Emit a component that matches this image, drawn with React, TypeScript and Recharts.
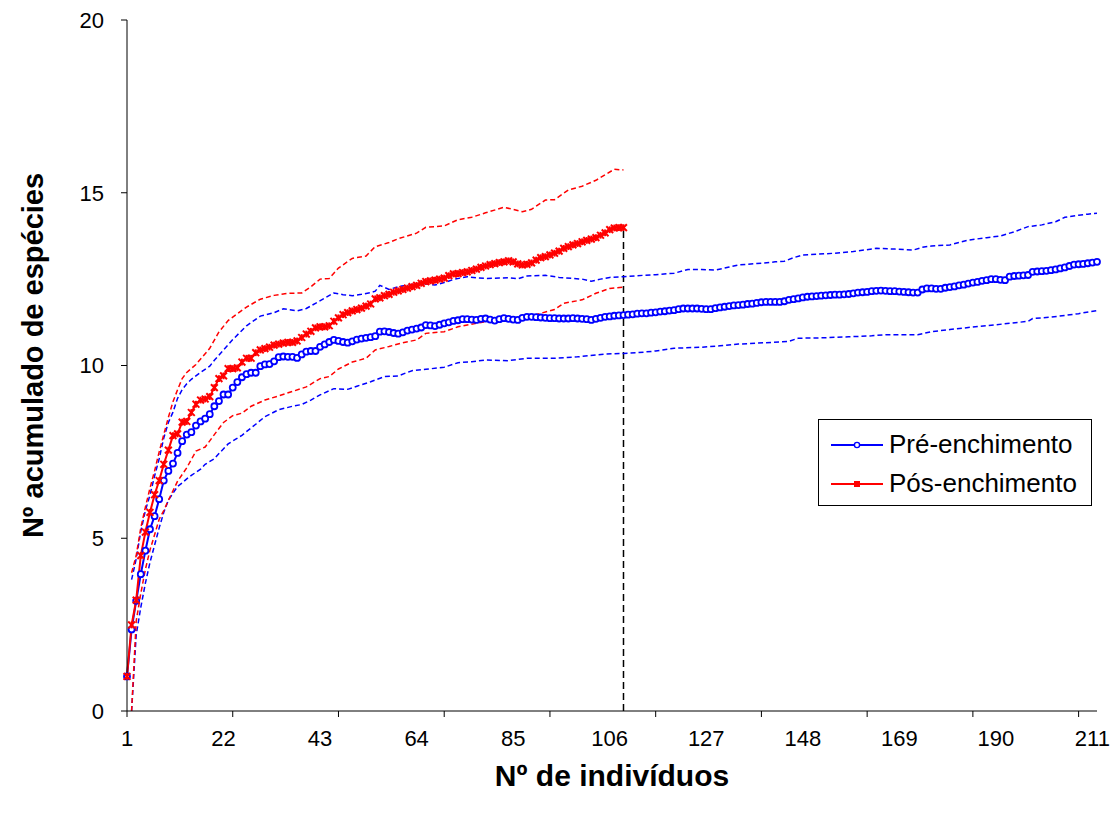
import { LineChart, Line, XAxis, YAxis, ReferenceLine, Legend } from 'recharts';

const FONT = 'Arial, "Liberation Sans", sans-serif';
const BLUE = '#0000ff';
const RED = '#ff0000';

// x-axis: labels every 21, tick marks every 23 (as in the original sheet)
const X_LABELS = [1, 22, 43, 64, 85, 106, 127, 148, 169, 190, 211];
const X_MARKS = [1, 24, 47, 70, 93, 116, 139, 162, 185, 208];
const Y_TICKS = [0, 5, 10, 15, 20];

// mean accumulated species, one value per individual
const PRE_MEAN = [
  1.0, 2.36, 3.19, 3.96, 4.64, 5.26, 5.64, 6.13, 6.67, 6.95,
  7.16, 7.47, 7.81, 8.0, 8.07, 8.26, 8.38, 8.46, 8.59, 8.82,
  8.97, 9.16, 9.16, 9.36, 9.52, 9.66, 9.75, 9.79, 9.79, 9.98,
  10.03, 10.04, 10.12, 10.24, 10.26, 10.25, 10.25, 10.22, 10.32, 10.4,
  10.42, 10.42, 10.54, 10.61, 10.68, 10.74, 10.71, 10.68, 10.66, 10.7,
  10.75, 10.78, 10.8, 10.82, 10.85, 10.98, 10.99, 10.97, 10.94, 10.92,
  10.96, 11.01, 11.04, 11.07, 11.1, 11.17, 11.16, 11.14, 11.18, 11.22,
  11.25, 11.29, 11.31, 11.34, 11.34, 11.33, 11.32, 11.35, 11.36, 11.33,
  11.3, 11.34, 11.37, 11.35, 11.33, 11.32, 11.38, 11.41, 11.41, 11.4,
  11.39, 11.38, 11.37, 11.37, 11.36, 11.36, 11.36, 11.37, 11.36, 11.35,
  11.34, 11.32, 11.35, 11.38, 11.41, 11.42, 11.44, 11.45, 11.46, 11.47,
  11.48, 11.5, 11.51, 11.51, 11.53, 11.54, 11.56, 11.57, 11.59, 11.6,
  11.63, 11.65, 11.65, 11.65, 11.65, 11.64, 11.63, 11.63, 11.66, 11.68,
  11.7, 11.72, 11.74, 11.75, 11.76, 11.78, 11.79, 11.81, 11.83, 11.84,
  11.84, 11.84, 11.84, 11.86, 11.9, 11.92, 11.94, 11.97, 11.99, 12.0,
  12.01, 12.02, 12.03, 12.04, 12.05, 12.05, 12.06, 12.07, 12.09, 12.11,
  12.12, 12.13, 12.15, 12.16, 12.17, 12.16, 12.15, 12.15, 12.14, 12.13,
  12.12, 12.11, 12.11, 12.2, 12.23, 12.23, 12.22, 12.22, 12.25, 12.27,
  12.29, 12.32, 12.34, 12.37, 12.4, 12.42, 12.45, 12.47, 12.5, 12.5,
  12.48, 12.47, 12.57, 12.59, 12.6, 12.61, 12.62, 12.71, 12.72, 12.73,
  12.74, 12.76, 12.78, 12.81, 12.84, 12.88, 12.92, 12.93, 12.94, 12.96,
  12.98, 13.0,
];

const POST_MEAN = [
  1.0, 2.49, 3.21, 4.5, 5.18, 5.75, 6.26, 6.67, 7.14, 7.55,
  7.97, 8.02, 8.36, 8.38, 8.64, 8.88, 9.0, 9.03, 9.1, 9.36,
  9.62, 9.7, 9.91, 9.91, 9.93, 10.1, 10.21, 10.21, 10.37, 10.45,
  10.49, 10.53, 10.59, 10.62, 10.65, 10.67, 10.67, 10.71, 10.81, 10.91,
  10.99, 11.09, 11.12, 11.12, 11.15, 11.28, 11.38, 11.47, 11.53, 11.58,
  11.62, 11.66, 11.72, 11.78, 11.93, 11.96, 12.02, 12.06, 12.12, 12.16,
  12.2, 12.24, 12.28, 12.32, 12.38, 12.43, 12.45, 12.47, 12.5, 12.53,
  12.6, 12.65, 12.66, 12.69, 12.71, 12.75, 12.79, 12.84, 12.88, 12.92,
  12.95, 12.98, 13.0, 13.03, 13.0, 12.94, 12.91, 12.93, 12.97, 13.05,
  13.12, 13.15, 13.2, 13.25, 13.31, 13.39, 13.44, 13.49, 13.53, 13.58,
  13.62, 13.66, 13.7, 13.77, 13.84, 13.93, 13.98, 13.99, 13.99,
];

// confidence limits, [individuals, species]
const PRE_UPPER: [number, number][] = [
  [2, 3.8], [3, 4.4], [4, 5.2], [5, 5.8], [6, 6.25], [7, 6.8], [8, 7.3], [9, 7.9], [10, 8.35],
  [11, 8.65], [12, 9.05], [13, 9.3], [14, 9.47], [15, 9.6], [17, 9.8], [19, 9.98], [20, 10.15],
  [22, 10.45], [24, 10.75], [27, 11.15], [30, 11.43], [33, 11.53], [35, 11.64], [38, 11.58],
  [40, 11.65], [42, 11.8], [44, 11.95], [46, 12.1], [48, 12.05], [50, 12.02], [52, 12.06],
  [54, 12.11], [55, 12.15], [56, 12.32], [58, 12.2], [60, 12.28], [62, 12.33], [65, 12.38],
  [68, 12.33], [70, 12.4], [72, 12.49], [75, 12.57], [77, 12.54], [79, 12.52], [82, 12.53],
  [84, 12.54], [86, 12.51], [88, 12.59], [92, 12.61], [95, 12.55], [98, 12.52], [100, 12.5],
  [102, 12.44], [104, 12.5], [106, 12.55], [109, 12.57], [112, 12.6], [116, 12.63], [120, 12.67],
  [123, 12.78], [126, 12.78], [129, 12.76], [132, 12.85], [134, 12.91], [138, 12.95], [142, 13.0],
  [144, 13.02], [146, 13.12], [148, 13.2], [151, 13.22], [155, 13.25], [159, 13.3], [164, 13.39],
  [168, 13.37], [172, 13.34], [174, 13.42], [176, 13.46], [180, 13.49], [184, 13.63], [188, 13.7],
  [191, 13.75], [194, 13.87], [197, 14.02], [200, 14.07], [203, 14.16], [205, 14.29], [208, 14.35],
  [210, 14.38], [212, 14.41],
];

const PRE_LOWER: [number, number][] = [
  [2, 0], [3, 2.2], [4, 3.0], [5, 3.7], [6, 4.3], [7, 4.8], [8, 5.3], [9, 5.75], [10, 6.1],
  [11, 6.3], [12, 6.5], [13, 6.6], [14, 6.72], [15, 6.82], [17, 7.0], [18, 7.14], [20, 7.3],
  [21, 7.45], [23, 7.73], [26, 7.98], [29, 8.3], [31, 8.52], [34, 8.72], [37, 8.82], [39, 8.87],
  [41, 9.0], [43, 9.15], [46, 9.33], [49, 9.31], [51, 9.4], [54, 9.53], [57, 9.68], [60, 9.7],
  [63, 9.85], [66, 9.89], [70, 9.95], [73, 10.08], [76, 10.11], [79, 10.16], [84, 10.14],
  [88, 10.21], [94, 10.21], [99, 10.25], [105, 10.33], [109, 10.35], [112, 10.37], [116, 10.42],
  [120, 10.5], [126, 10.53], [130, 10.57], [134, 10.62], [140, 10.66], [145, 10.7], [147, 10.79],
  [152, 10.8], [158, 10.83], [163, 10.86], [166, 10.89], [173, 10.89], [176, 10.98], [180, 11.04],
  [184, 11.1], [190, 11.18], [195, 11.25], [197, 11.28], [198, 11.36], [202, 11.4], [205, 11.45],
  [208, 11.5], [212, 11.59],
];

const POST_UPPER: [number, number][] = [
  [2, 4.0], [3, 4.5], [4, 5.3], [5, 5.9], [6, 6.45], [7, 6.95], [8, 7.5], [9, 8.0], [10, 8.5],
  [11, 8.95], [12, 9.3], [13, 9.62], [14, 9.8], [16, 10.03], [18, 10.34], [19, 10.5], [21, 10.97],
  [23, 11.3], [25, 11.5], [27, 11.69], [30, 11.92], [33, 12.03], [36, 12.09], [39, 12.1],
  [41, 12.28], [43, 12.5], [45, 12.52], [47, 12.82], [50, 13.1], [53, 13.17], [55, 13.44],
  [58, 13.56], [60, 13.67], [64, 13.83], [66, 14.0], [70, 14.04], [73, 14.22], [76, 14.29],
  [79, 14.42], [83, 14.58], [85, 14.52], [87, 14.45], [89, 14.52], [92, 14.79], [94, 14.8],
  [97, 15.08], [100, 15.19], [103, 15.36], [105, 15.52], [107, 15.68], [109, 15.66],
];

const POST_LOWER: [number, number][] = [
  [2, 0], [3, 2.6], [4, 3.4], [5, 4.1], [6, 4.66], [7, 5.1], [8, 5.55], [9, 5.8], [10, 6.1],
  [12, 6.65], [14, 7.04], [16, 7.52], [18, 7.64], [20, 8.0], [22, 8.35], [24, 8.55], [26, 8.62],
  [28, 8.82], [31, 9.0], [34, 9.12], [37, 9.25], [40, 9.38], [43, 9.62], [45, 9.68], [47, 9.9],
  [50, 10.1], [53, 10.21], [55, 10.45], [58, 10.55], [61, 10.66], [64, 10.74], [66, 10.93],
  [70, 10.98], [73, 11.12], [77, 11.22], [81, 11.32], [84, 11.36], [88, 11.41], [91, 11.51],
  [94, 11.62], [96, 11.8], [100, 11.9], [103, 12.09], [106, 12.23], [109, 12.27],
];

const fromSeries = (vals: number[]) => vals.map((y, i) => ({ x: i + 1, y }));
const fromPairs = (pairs: [number, number][]) => pairs.map(([x, y]) => ({ x, y }));

const preMean = fromSeries(PRE_MEAN);
const postMean = fromSeries(POST_MEAN);
const postEnd = postMean[postMean.length - 1];

const X_TICKS = Array.from(new Set([...X_LABELS, ...X_MARKS])).sort((a, b) => a - b);

function XTick(props: any) {
  const { x, y, payload } = props;
  const v = payload.value;
  return (
    <g>
      {X_MARKS.includes(v) && <line x1={x} x2={x} y1={y} y2={y + 6} stroke="#000" strokeWidth={1} />}
      {X_LABELS.includes(v) && (
        <text x={x} y={y + 35} textAnchor="middle" fontSize={22} fontFamily={FONT} fill="#000">{v}</text>
      )}
    </g>
  );
}

function CircleDot(props: any) {
  const { cx, cy, index } = props;
  if (cx == null || cy == null) return <g key={`c${index}`} />;
  return <circle key={`c${index}`} cx={cx} cy={cy} r={3} fill="#fff" stroke={BLUE} strokeWidth={1.8} />;
}

function CrossDot(props: any) {
  const { cx, cy, index } = props;
  if (cx == null || cy == null) return <g key={`x${index}`} />;
  const s = 3.4;
  return (
    <g key={`x${index}`} stroke={RED} strokeWidth={2}>
      <line x1={cx - s} y1={cy - s} x2={cx + s} y2={cy + s} />
      <line x1={cx - s} y1={cy + s} x2={cx + s} y2={cy - s} />
      <line x1={cx} y1={cy - s} x2={cx} y2={cy + s} />
    </g>
  );
}

function LegendBox() {
  const rows = [
    { name: 'Pré-enchimento', color: BLUE, circle: true },
    { name: 'Pós-enchimento', color: RED, circle: false },
  ];
  return (
    <div style={{ width: 274, height: 87, border: '1px solid #000', background: '#fff', boxSizing: 'border-box', paddingTop: 5 }}>
      {rows.map((r) => (
        <div key={r.name} style={{ display: 'flex', alignItems: 'center', height: 39 }}>
          <svg width={70} height={20} style={{ marginLeft: 12 }}>
            <line x1={0} x2={52} y1={10} y2={10} stroke={r.color} strokeWidth={2} />
            {r.circle
              ? <circle cx={26} cy={10} r={2.6} fill="#fff" stroke={r.color} strokeWidth={1.4} />
              : <rect x={23} y={7} width={6} height={6} fill={r.color} />}
          </svg>
          <span style={{ fontFamily: FONT, fontSize: 26, color: '#000', marginLeft: -12 }}>{r.name}</span>
        </div>
      ))}
    </div>
  );
}

export default function App() {
  return (
    <div style={{ position: 'absolute', left: 0, top: 0, background: '#fff' }}>
      <LineChart width={1118} height={818} margin={{ top: 20, right: 21, left: 0, bottom: 0 }} style={{ fontFamily: FONT }}>
        <XAxis
          type="number"
          dataKey="x"
          domain={[1, 212]}
          ticks={X_TICKS}
          interval={0}
          tick={<XTick />}
          tickLine={false}
          tickSize={0}
          tickMargin={0}
          height={107}
          stroke="#000"
          label={{
            content: (p: any) => {
              const vb = p.viewBox;
              return (
                <text x={vb.x + vb.width / 2} y={vb.y + 75} textAnchor="middle" fontSize={30} fontWeight="bold" fontFamily={FONT} fill="#000">
                  Nº de indivíduos
                </text>
              );
            },
          }}
        />
        <YAxis
          type="number"
          dataKey="y"
          domain={[0, 20]}
          ticks={Y_TICKS}
          interval={0}
          width={127}
          stroke="#000"
          tickSize={6}
          tickMargin={17}
          tick={{ fill: '#000', fontSize: 22, fontFamily: FONT }}
          label={{
            content: (p: any) => {
              const vb = p.viewBox;
              const cx = vb.x + 33;
              const cy = vb.y + vb.height / 2 - 10;
              return (
                <text x={cx} y={cy} transform={`rotate(-90 ${cx} ${cy})`} textAnchor="middle" dominantBaseline="central" fontSize={29} fontWeight="bold" fontFamily={FONT} fill="#000">
                  Nº acumulado de espécies
                </text>
              );
            },
          }}
        />
        <ReferenceLine
          segment={[{ x: postEnd.x, y: 0 }, { x: postEnd.x, y: postEnd.y }]}
          stroke="#000"
          strokeWidth={1.5}
          strokeDasharray="7 4"
        />
        <Line data={fromPairs(PRE_UPPER)} dataKey="y" stroke={BLUE} strokeWidth={1.5} strokeDasharray="5 3" dot={false} isAnimationActive={false} legendType="none" />
        <Line data={fromPairs(PRE_LOWER)} dataKey="y" stroke={BLUE} strokeWidth={1.5} strokeDasharray="5 3" dot={false} isAnimationActive={false} legendType="none" />
        <Line data={preMean} dataKey="y" name="Pré-enchimento" stroke={BLUE} strokeWidth={2} dot={(p: any) => <CircleDot {...p} key={`c${p.index}`} />} isAnimationActive={false} />
        <Line data={fromPairs(POST_UPPER)} dataKey="y" stroke={RED} strokeWidth={1.5} strokeDasharray="5 3" dot={false} isAnimationActive={false} legendType="none" />
        <Line data={fromPairs(POST_LOWER)} dataKey="y" stroke={RED} strokeWidth={1.5} strokeDasharray="5 3" dot={false} isAnimationActive={false} legendType="none" />
        <Line data={postMean} dataKey="y" name="Pós-enchimento" stroke={RED} strokeWidth={2} dot={(p: any) => <CrossDot {...p} key={`x${p.index}`} />} isAnimationActive={false} />
        <Legend
          layout="horizontal"
          verticalAlign="middle"
          align="center"
          content={() => <LegendBox />}
          wrapperStyle={{ left: 818, top: 419, width: 274, height: 87 }}
        />
      </LineChart>
    </div>
  );
}
